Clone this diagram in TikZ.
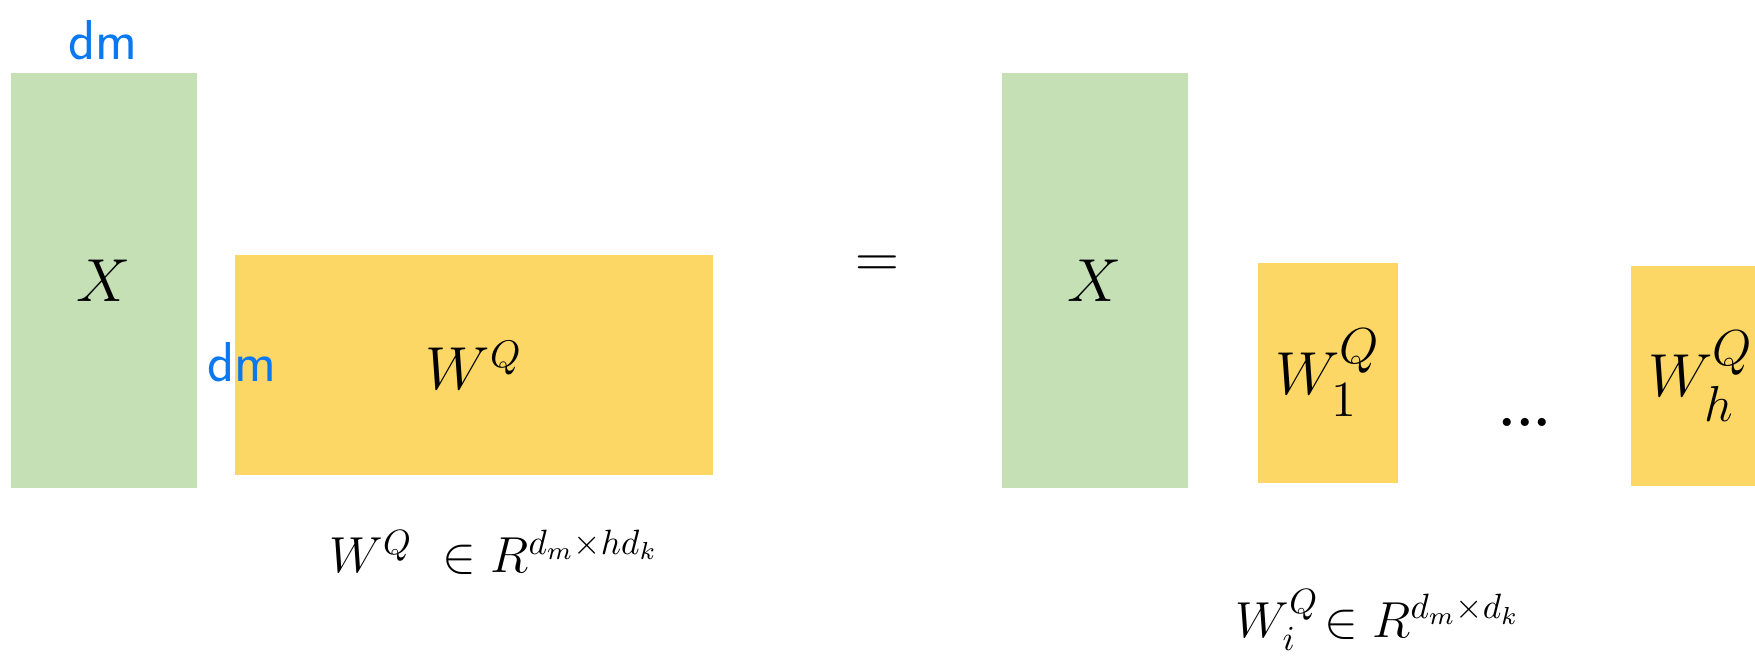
\documentclass[tikz,border=0pt]{standalone}
\usepackage{amsmath,amssymb}
\usepackage{tikz}
\usetikzlibrary{positioning}
\usepackage{xcolor}
\definecolor{matgreen}{RGB}{197,224,180}
\definecolor{matyellow}{RGB}{252,215,102}
\definecolor{penblue}{RGB}{10,120,240}

\begin{document}
\begin{tikzpicture}[
  greenmat/.style={fill=matgreen,inner sep=0pt,minimum width=1.86cm,minimum height=4.15cm,font=\fontsize{19}{22}\selectfont},
  yellowmat/.style={fill=matyellow,inner sep=0pt,font=\fontsize{19}{22}\selectfont},
  pen/.style={penblue,font=\fontsize{16}{18}\selectfont\sffamily}]
  \useasboundingbox (0,0) rectangle (17.55,-6.56);
  % left side: X times W^Q
  \node[greenmat] (xleft) at (1.04,-2.805) {$X$};
  \node[yellowmat,minimum width=4.78cm,minimum height=2.20cm,font=\fontsize{16}{19}\selectfont] (wq) at (4.74,-3.65) {$W^{Q}$};
  \node[pen] (dmtop) at (1.03,-0.40) {dm};
  \node[pen] (dmside) at (2.42,-3.62) {dm};
  \node[font=\fontsize{14}{17}\selectfont] (wqset) at (4.94,-5.52) {$W^{Q}\ \in R^{d_m\times hd_k}$};
  % equals
  \node[font=\fontsize{19}{22}\selectfont] (eq) at (8.77,-2.67) {$=$};
  % right side: X times the head blocks
  \node[greenmat] (xright) at (10.95,-2.805) {$X$};
  \node[yellowmat,minimum width=1.40cm,minimum height=2.20cm] (wone) at (13.28,-3.73) {$W_1^{Q}$};
  \node[font=\fontsize{16}{19}\selectfont\bfseries] (dots) at (15.25,-4.22) {...};
  \node[yellowmat,minimum width=1.40cm,minimum height=2.20cm] (wh) at (17.01,-3.76) {$W_h^{Q}$};
  \node[font=\fontsize{14}{17}\selectfont] (wiset) at (13.78,-6.20) {$W_i^{Q}\!\in R^{d_m\times d_k}$};
\end{tikzpicture}
\end{document}
